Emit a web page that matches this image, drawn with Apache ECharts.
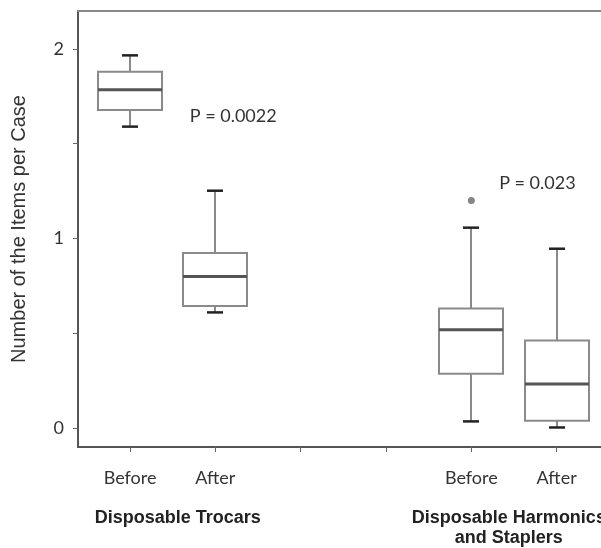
<!DOCTYPE html>
<html>
<head>
<meta charset="utf-8">
<script src="https://cdn.jsdelivr.net/npm/echarts@6/dist/echarts.min.js"></script>
<style>
html,body{margin:0;padding:0;background:#fff;}
#chart{width:601px;height:548px;}
</style>
</head>
<body>
<div id="chart"></div>
<script>
// ---- data ----
const categories = ['Before', 'After', 'Before', 'After'];
const slots = [0, 1, 4, 5];
const minVals = [1.59, 0.61, 0.035, 0.003];
const q1Vals = [1.678, 0.644, 0.287, 0.039];
const medianVals = [1.784, 0.800, 0.519, 0.232];
const q3Vals = [1.880, 0.923, 0.630, 0.462];
const maxVals = [1.966, 1.252, 1.057, 0.946];
const outliers = [[4, 1.2]];
const groupNames = ['Disposable Trocars', 'Disposable Harmonics\nand Staplers'];
const groupCenters = [0.56, 4.44];
const pTexts = ['P = 0.0022', 'P = 0.023'];
const pAnchors = [[0.70, 1.644], [4.326, 1.294]];
const yTickValues = [0, 0.5, 1, 1.5, 2];
const yLabelValues = [0, 1, 2];
const xTickValues = [0, 1, 2, 3, 4, 5];

const boxData = slots.map((s, i) => [s, minVals[i], q1Vals[i], medianVals[i], q3Vals[i], maxVals[i]]);

const chart = echarts.init(document.getElementById('chart'));

function renderBox(params, api) {
  const x = api.value(0);
  const pMin = api.coord([x, api.value(1)]);
  const pQ1 = api.coord([x, api.value(2)]);
  const pMed = api.coord([x, api.value(3)]);
  const pQ3 = api.coord([x, api.value(4)]);
  const pMax = api.coord([x, api.value(5)]);
  const cx = Math.round(pMed[0]);
  const halfBox = 32, halfCap = 8;
  const grey = '#8a8a8a';
  return {
    type: 'group',
    children: [
      {type: 'line', shape: {x1: cx, y1: pQ3[1], x2: cx, y2: pMax[1]}, style: {stroke: grey, lineWidth: 2}},
      {type: 'line', shape: {x1: cx, y1: pQ1[1], x2: cx, y2: pMin[1]}, style: {stroke: grey, lineWidth: 2}},
      {type: 'rect', shape: {x: cx - halfBox, y: pQ3[1], width: halfBox * 2, height: pQ1[1] - pQ3[1]}, style: {fill: '#fff', stroke: grey, lineWidth: 2}},
      {type: 'line', shape: {x1: cx - halfBox, y1: pMed[1], x2: cx + halfBox, y2: pMed[1]}, style: {stroke: '#555', lineWidth: 3}},
      {type: 'line', shape: {x1: cx - halfCap, y1: pMax[1], x2: cx + halfCap, y2: pMax[1]}, style: {stroke: '#222', lineWidth: 2.5}},
      {type: 'line', shape: {x1: cx - halfCap, y1: pMin[1], x2: cx + halfCap, y2: pMin[1]}, style: {stroke: '#222', lineWidth: 2.5}}
    ]
  };
}

const labelMap = {};
slots.forEach((s, i) => { labelMap[s] = categories[i]; });

chart.setOption({
  animation: false,
  grid: {left: 78, right: 0, top: 11, bottom: 101},
  xAxis: [{
    type: 'value',
    min: -0.61,
    max: 5.52,
    splitLine: {show: false},
    axisLine: {show: true, onZero: false, lineStyle: {color: '#555', width: 2}},
    axisTick: {show: true, customValues: xTickValues, length: 5, lineStyle: {color: '#666', width: 1}},
    axisLabel: {
      customValues: slots,
      margin: 22,
      fontFamily: 'Lato',
      fontSize: 18,
      color: '#333',
      formatter: v => labelMap[v] || ''
    }
  }, {
    type: 'value',
    position: 'top',
    min: -0.61,
    max: 5.52,
    splitLine: {show: false},
    axisLine: {show: true, onZero: false, lineStyle: {color: '#888', width: 2}},
    axisTick: {show: false},
    axisLabel: {show: false}
  }],
  yAxis: {
    type: 'value',
    min: -0.1,
    max: 2.2,
    name: 'Number of the Items per Case',
    nameLocation: 'middle',
    nameGap: 49,
    nameTextStyle: {fontFamily: 'Liberation Sans', fontSize: 20, color: '#333'},
    splitLine: {show: false},
    axisLine: {show: true, onZero: false, lineStyle: {color: '#555', width: 2}},
    axisTick: {show: true, customValues: yTickValues, length: 5, lineStyle: {color: '#666', width: 1}},
    axisLabel: {
      customValues: yLabelValues,
      margin: 14,
      fontFamily: 'Lato',
      fontSize: 18,
      color: '#333',
      formatter: v => String(v)
    }
  },
  series: [{
    type: 'custom',
    renderItem: renderBox,
    data: boxData,
    encode: {x: 0, y: [1, 2, 3, 4, 5]},
    z: 3
  }, {
    type: 'scatter',
    data: outliers,
    symbolSize: 7,
    itemStyle: {color: '#666'},
    z: 4
  }]
});

const graphics = [];
groupNames.forEach((name, i) => {
  const px = chart.convertToPixel({xAxisIndex: 0}, groupCenters[i]);
  graphics.push({
    type: 'text',
    x: px,
    y: 508,
    style: {
      text: name,
      fontFamily: 'Liberation Sans',
      fontWeight: 'bold',
      fontSize: 18,
      lineHeight: 20,
      fill: '#222',
      align: 'center',
      verticalAlign: 'top'
    }
  });
});
pTexts.forEach((t, i) => {
  const p = chart.convertToPixel({xAxisIndex: 0, yAxisIndex: 0}, pAnchors[i]);
  graphics.push({
    type: 'text',
    x: p[0],
    y: p[1],
    style: {
      text: t,
      fontFamily: 'Lato',
      fontSize: 18,
      fill: '#333',
      align: 'left',
      verticalAlign: 'middle'
    }
  });
});
chart.setOption({graphic: graphics});
</script>
</body>
</html>
